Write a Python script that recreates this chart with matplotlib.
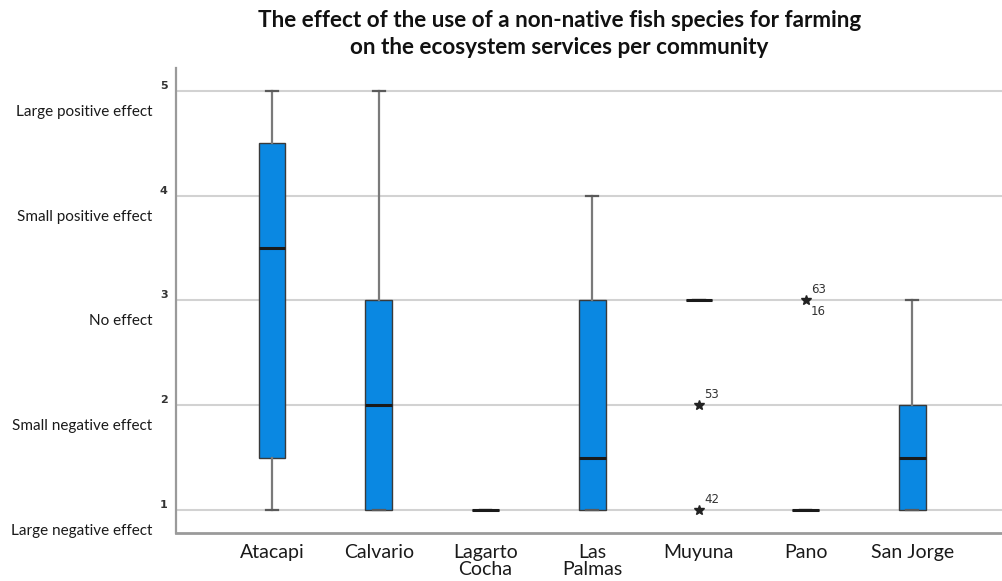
import matplotlib
matplotlib.use("Agg")
import matplotlib.pyplot as plt

plt.rcParams['font.family'] = ['Lato', 'DejaVu Sans']

# Community groups and their five-number summaries (1 = large negative ... 5 = large positive)
communities = ["Atacapi", "Calvario", "Lagarto\nCocha", "Las\nPalmas", "Muyuna", "Pano", "San Jorge"]
whisker_low = [1.0, 1.0, 1.0, 1.0, 3.0, 1.0, 1.0]
q1 = [1.5, 1.0, 1.0, 1.0, 3.0, 1.0, 1.0]
medians = [3.5, 2.0, 1.0, 1.5, 3.0, 1.0, 1.5]
q3 = [4.5, 3.0, 1.0, 3.0, 3.0, 1.0, 2.0]
whisker_high = [5.0, 5.0, 1.0, 4.0, 3.0, 1.0, 3.0]

# Extreme values (community index, value, case labels)
extreme_group = [4, 4, 5]
extreme_value = [2.0, 1.0, 3.0]
extreme_cases = [["53"], ["42"], ["63", "16"]]

effect_levels = [1, 2, 3, 4, 5]
effect_labels = ["Large negative effect", "Small negative effect", "No effect",
                 "Small positive effect", "Large positive effect"]

title = ("The effect of the use of a non-native fish species for farming\n"
         "on the ecosystem services per community")

fig = plt.figure(figsize=(10.03, 5.81), dpi=100)
ax = fig.add_axes([0.1755, 0.0826, 0.8245, 0.8004])

stats = []
for i, name in enumerate(communities):
    stats.append(dict(label=name, whislo=whisker_low[i], q1=q1[i], med=medians[i],
                      q3=q3[i], whishi=whisker_high[i], fliers=[]))

positions = list(range(len(communities)))
ax.bxp(stats, positions=positions, widths=0.25, patch_artist=True,
       showfliers=False, capwidths=0.11,
       boxprops=dict(facecolor="#0a88e2", edgecolor="#3a3a3a", linewidth=1.0),
       medianprops=dict(color="#1a1a1a", linewidth=2.2),
       whiskerprops=dict(color="#7a7a7a", linewidth=1.6),
       capprops=dict(color="#5a5a5a", linewidth=1.6),
       zorder=3)

# Extreme value stars with case numbers
for g, v, cases in zip(extreme_group, extreme_value, extreme_cases):
    ax.plot(g, v, marker="*", color="#222222", markersize=7, linestyle="none", zorder=4)
    ax.annotate(cases[0], (g, v), xytext=(4, 3), textcoords="offset points",
                fontsize=8.5, color="#333333", ha="left", va="bottom",
                family=["DejaVu Sans"])
    if len(cases) > 1:
        ax.annotate(cases[1], (g, v), xytext=(4, -3), textcoords="offset points",
                    fontsize=8.5, color="#333333", ha="left", va="top",
                    family=["DejaVu Sans"])

ax.set_xlim(-0.9, 6.85)
ax.set_ylim(0.78, 5.22)

# Horizontal reference lines at each scale level
for lvl in effect_levels:
    ax.axhline(lvl, color="#d2d2d2", linewidth=1.5, zorder=1)

ax.set_yticks(effect_levels)
ax.set_yticklabels([str(v) for v in effect_levels], fontsize=8, color="#333333",
                   family=["DejaVu Sans"], fontweight="bold")
ax.tick_params(axis="y", length=0, pad=6)
for lbl in ax.get_yticklabels():
    lbl.set_verticalalignment("bottom")

ax.set_xticks(positions)
ax.set_xticklabels(communities, fontsize=14, color="#1a1a1a", linespacing=1.0)
ax.tick_params(axis="x", length=0, pad=8)

# Verbal scale labels placed just below each numeric level
for lvl, txt in zip(effect_levels, effect_labels):
    ax.annotate(txt, xy=(0, lvl), xycoords=("axes fraction", "data"),
                xytext=(-17, -10), textcoords="offset points",
                ha="right", va="top", fontsize=11, color="#1a1a1a")

for side in ("top", "right"):
    ax.spines[side].set_visible(False)
ax.spines["left"].set_color("#9a9a9a")
ax.spines["left"].set_linewidth(1.6)
ax.spines["bottom"].set_color("#9a9a9a")
ax.spines["bottom"].set_linewidth(2.0)

fig.text(0.558, 0.982, title, ha="center", va="top", fontsize=16.2,
         fontweight="bold", color="#111111", linespacing=1.35)

fig.savefig("out.png", dpi=100, facecolor="white")
